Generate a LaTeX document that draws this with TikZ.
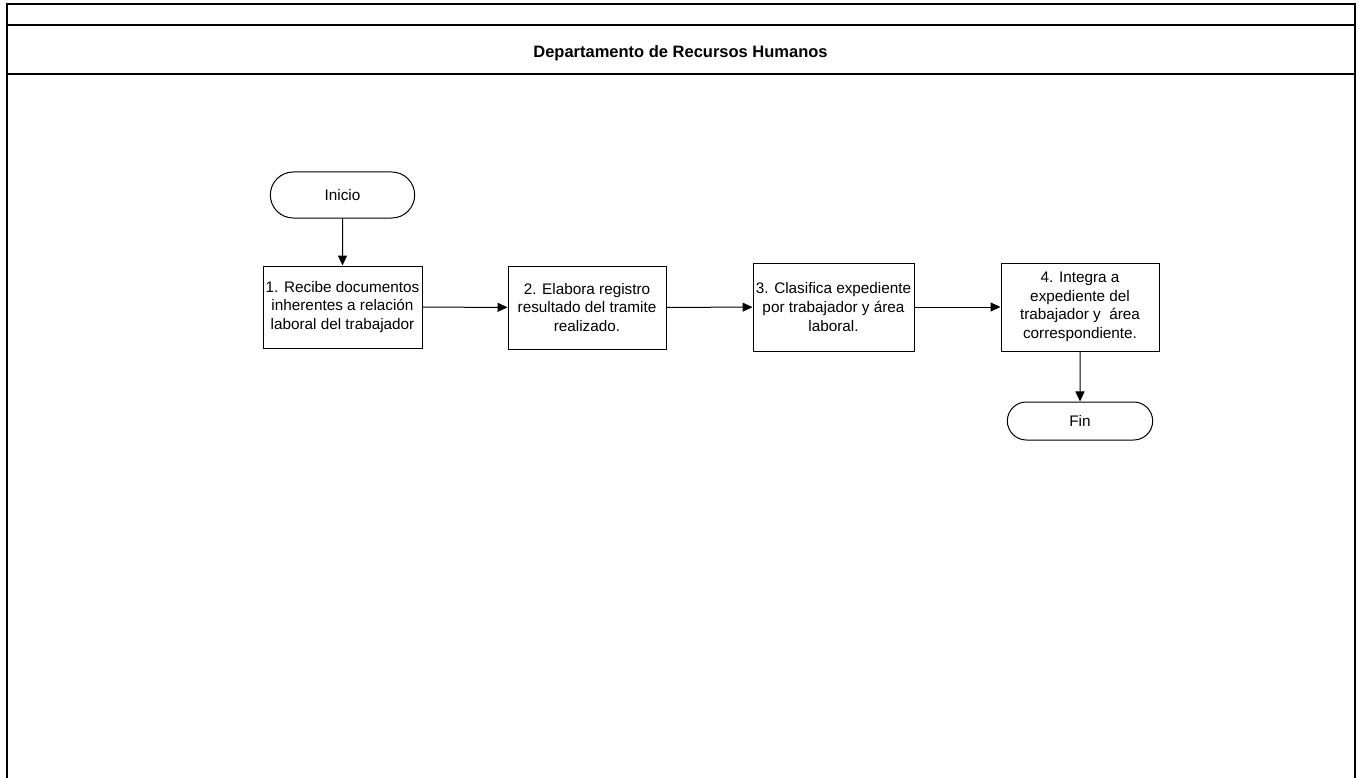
\documentclass[tikz,border=0pt]{standalone}
\usepackage{fontspec}
\setmainfont{Liberation Sans}
\usetikzlibrary{arrows.meta,shapes.misc}
\begin{document}
\begin{tikzpicture}[x=1pt,y=-1pt,
  frame/.style={line width=2pt,draw=black},
  proc/.style={draw=black,line width=1pt,fill=white,align=center,inner sep=2pt,
     font=\fontsize{15.3}{18.6}\selectfont},
  term/.style={draw=black,line width=1pt,fill=white,rounded rectangle,align=center,
     font=\fontsize{15.3}{18.6}\selectfont},
  flow/.style={line width=1pt,-{Triangle[length=10pt,width=9pt]}}]
\useasboundingbox (0,0) rectangle (1359,778);
% frame
\draw[frame] (6.5,779) -- (6.5,4.5) -- (1355,4.5) -- (1355,779);
\draw[frame] (6.5,25) -- (1355,25);
\draw[frame] (6.5,74.5) -- (1355,74.5);
\node[font=\fontsize{16.5}{20}\selectfont\bfseries] (title) at (680.5,53) {Departamento de Recursos Humanos};
% nodes
\node[term,minimum width=151pt,minimum height=46pt] (ini) at (342.5,195) {Inicio};
\node[proc,minimum width=159pt,minimum height=82pt] (p1) at (342.5,307) {1. Recibe documentos\\inherentes a relación\\laboral del trabajador};
\node[proc,minimum width=158pt,minimum height=83pt] (p2) at (587,307.5) {2. Elabora registro\\resultado del tramite\\realizado.};
\node[proc,minimum width=161pt,minimum height=88pt] (p3) at (833.5,307) {3. Clasifica expediente\\por trabajador y área\\laboral.};
\node[proc,minimum width=158pt,minimum height=88pt] (p4) at (1080,307) {4. Integra a\\expediente del\\trabajador y\ \ área\\correspondiente.};
\node[term,minimum width=152pt,minimum height=38pt] (fin) at (1080,421) {Fin};
% connectors
\draw[flow] (ini) -- (p1);
\draw[flow] (p1) -- (p2);
\draw[flow] (p2) -- (p3);
\draw[flow] (p3) -- (p4);
\draw[flow] (p4) -- (fin);
\end{tikzpicture}
\end{document}
